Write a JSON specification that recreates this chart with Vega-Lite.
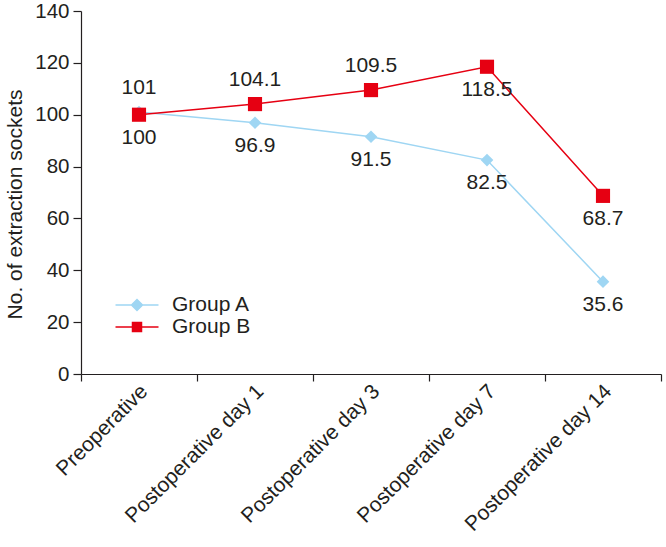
{
  "$schema": "https://vega.github.io/schema/vega-lite/v6.json",
  "autosize": "none",
  "width": 580,
  "height": 363,
  "padding": {"left": 81, "top": 11, "right": 5, "bottom": 173},
  "background": "white",
  "config": {
    "font": "Liberation Sans",
    "view": {"stroke": null},
    "axis": {"labelColor": "#231f20", "titleColor": "#231f20", "domainColor": "#231f20", "tickColor": "#231f20", "grid": false, "labelFontSize": 20.5, "titleFontSize": 21, "titleFontWeight": "normal", "domainWidth": 1.2, "tickWidth": 1.2}
  },
  "data": {
    "values": [
      {"stage": "Preoperative", "group": "Group A", "value": 101, "label": "101"},
      {"stage": "Postoperative day 1", "group": "Group A", "value": 96.9, "label": "96.9"},
      {"stage": "Postoperative day 3", "group": "Group A", "value": 91.5, "label": "91.5"},
      {"stage": "Postoperative day 7", "group": "Group A", "value": 82.5, "label": "82.5"},
      {"stage": "Postoperative day 14", "group": "Group A", "value": 35.6, "label": "35.6"},
      {"stage": "Preoperative", "group": "Group B", "value": 100, "label": "100"},
      {"stage": "Postoperative day 1", "group": "Group B", "value": 104.1, "label": "104.1"},
      {"stage": "Postoperative day 3", "group": "Group B", "value": 109.5, "label": "109.5"},
      {"stage": "Postoperative day 7", "group": "Group B", "value": 118.5, "label": "118.5"},
      {"stage": "Postoperative day 14", "group": "Group B", "value": 68.7, "label": "68.7"}
    ]
  },
  "encoding": {
    "x": {
      "field": "stage", "type": "nominal", "sort": null,
      "scale": {"paddingInner": 0, "paddingOuter": 0},
      "axis": {"title": null, "labelAngle": -45, "labelAlign": "right", "labelBaseline": "middle", "tickBand": "extent", "tickSize": 7, "labelPadding": 7, "labelOffset": 5, "labelFontSize": 21, "labelLimit": 0}
    },
    "y": {
      "field": "value", "type": "quantitative",
      "scale": {"domain": [0, 140], "nice": false},
      "axis": {"title": "No. of extraction sockets", "values": [0, 20, 40, 60, 80, 100, 120, 140], "tickSize": 8, "labelPadding": 4, "titlePadding": 9, "titleY": 193}
    },
    "color": {
      "field": "group", "type": "nominal",
      "scale": {"domain": ["Group A", "Group B"], "range": ["#9fd6f3", "#e60012"]},
      "legend": {
        "title": null, "orient": "none", "legendX": 45, "legendY": 283,
        "labelFontSize": 21, "labelColor": "#231f20", "symbolSize": 400,
        "symbolStrokeWidth": 1.5, "rowPadding": 1, "labelOffset": 24,
        "symbolType": "M-2.15,0H2.15",
        "encode": {
          "symbols": {
            "update": {
              "shape": {"signal": "datum.value === 'Group A' ? 'M-2.15,0H2.15M-0.55,0L0,-0.55L0.55,0L0,0.55Z' : 'M-2.15,0H2.15M-0.45,-0.45H0.45V0.45H-0.45Z'"},
              "stroke": {"signal": "datum.value === 'Group A' ? '#9fd6f3' : '#e60012'"},
              "fill": {"signal": "datum.value === 'Group A' ? '#9fd6f3' : '#e60012'"},
              "strokeWidth": {"value": 1.5},
              "opacity": {"value": 1}
            }
          }
        }
      }
    }
  },
  "layer": [
    {
      "mark": {"type": "line", "strokeWidth": 1.5}
    },
    {
      "transform": [{"filter": "datum.group === 'Group A'"}],
      "mark": {"type": "point", "filled": true, "opacity": 1, "shape": "diamond", "size": 160}
    },
    {
      "transform": [{"filter": "datum.group === 'Group B'"}],
      "mark": {"type": "point", "filled": true, "opacity": 1, "shape": "square", "size": 200}
    },
    {
      "transform": [{"filter": "(datum.group === 'Group A' && datum.stage === 'Preoperative') || (datum.group === 'Group B' && (datum.stage === 'Postoperative day 1' || datum.stage === 'Postoperative day 3'))"}],
      "mark": {"type": "text", "fontSize": 21, "dy": -24},
      "encoding": {"text": {"field": "label"}, "color": {"value": "#231f20"}}
    },
    {
      "transform": [{"filter": "!((datum.group === 'Group A' && datum.stage === 'Preoperative') || (datum.group === 'Group B' && (datum.stage === 'Postoperative day 1' || datum.stage === 'Postoperative day 3')))"}],
      "mark": {"type": "text", "fontSize": 21, "dy": 23},
      "encoding": {"text": {"field": "label"}, "color": {"value": "#231f20"}}
    }
  ]
}
